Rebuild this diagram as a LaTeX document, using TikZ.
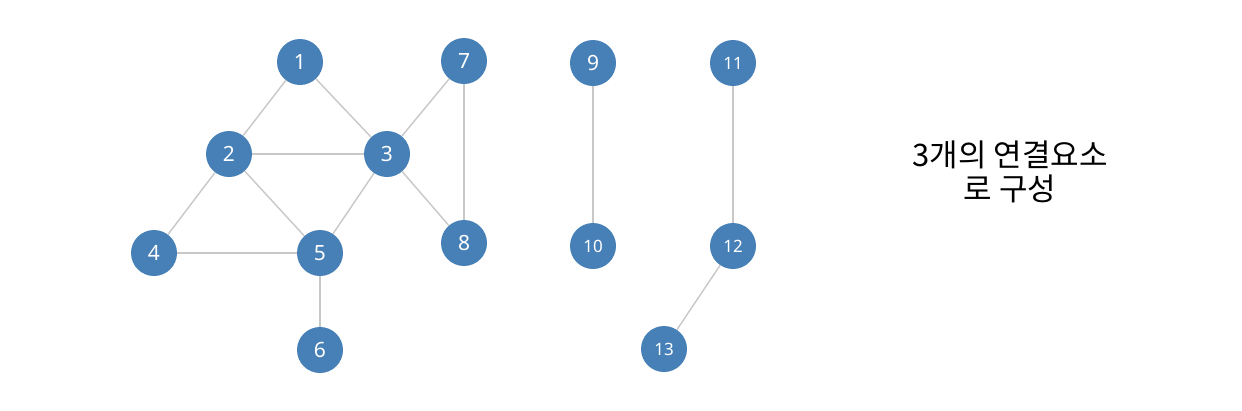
\documentclass[tikz,border=0pt]{standalone}
\usepackage{fontspec}
\setmainfont{Noto Sans}
\newfontfamily\krfont{Noto Sans CJK KR}
\definecolor{nodeblue}{RGB}{70,128,183}
\definecolor{edgegray}{RGB}{200,200,200}
\begin{document}
\begin{tikzpicture}[x=1pt,y=-1pt,
  vtx/.style={circle,fill=nodeblue,minimum size=46pt,inner sep=0pt,text=white,font=\fontsize{21}{21}\selectfont},
  vtxs/.style={vtx,font=\fontsize{17}{17}\selectfont},
  edge/.style={draw=edgegray,line width=1.4pt}]
\useasboundingbox[fill=white] (0,0) rectangle (1242,410);
\node[vtx] (n1) at (300,62) {1};
\node[vtx] (n2) at (229,154) {2};
\node[vtx] (n3) at (387,154) {3};
\node[vtx] (n4) at (154,253) {4};
\node[vtx] (n5) at (320,253) {5};
\node[vtx] (n6) at (320,350) {6};
\node[vtx] (n7) at (464,61) {7};
\node[vtx] (n8) at (464,243) {8};
\node[vtx] (n9) at (593,63) {9};
\node[vtxs] (n10) at (593,246) {10};
\node[vtxs] (n11) at (733,63) {11};
\node[vtxs] (n12) at (733,246) {12};
\node[vtxs] (n13) at (664,349) {13};
\draw[edge] (n1) -- (n2);
\draw[edge] (n1) -- (n3);
\draw[edge] (n2) -- (n3);
\draw[edge] (n2) -- (n4);
\draw[edge] (n2) -- (n5);
\draw[edge] (n3) -- (n5);
\draw[edge] (n4) -- (n5);
\draw[edge] (n5) -- (n6);
\draw[edge] (n3) -- (n7);
\draw[edge] (n3) -- (n8);
\draw[edge] (n7) -- (n8);
\draw[edge] (n9) -- (n10);
\draw[edge] (n11) -- (n12);
\draw[edge] (n12) -- (n13);
\node[align=center,font=\krfont\fontsize{31}{34}\selectfont,text=black] (lbl) at (1010,172) {3개의 연결요소\\로 구성};
\end{tikzpicture}
\end{document}
